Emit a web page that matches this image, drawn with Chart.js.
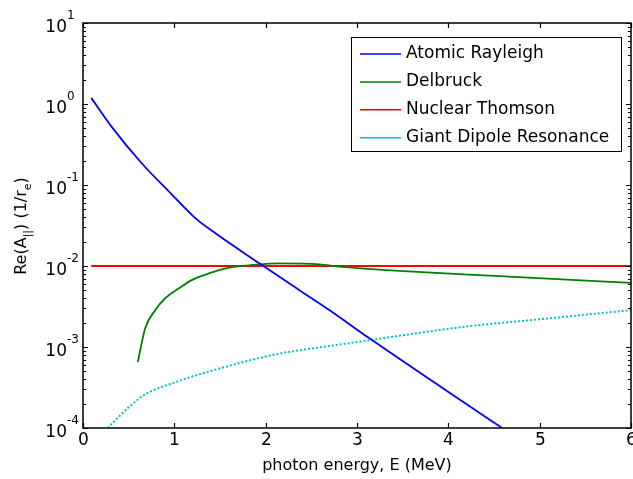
<!DOCTYPE html>
<html>
<head>
<meta charset="utf-8">
<script src="https://cdn.jsdelivr.net/npm/chart.js@4/dist/chart.umd.min.js"></script>
<style>
  html, body { margin: 0; padding: 0; background: #fff; }
  #wrap { width: 633px; height: 479px; }
</style>
</head>
<body>
<div id="wrap"><canvas id="c" width="633" height="479"></canvas></div>
<script>
// ─── Data ───
const rayleighE = [0.09, 0.31, 0.64, 0.96, 1.23, 1.45, 1.93, 2.37, 2.70, 3.14, 4.14, 4.59];
const rayleighA = [1.19, 0.53, 0.187, 0.079, 0.039, 0.0253, 0.0108, 0.00502, 0.00284, 0.00127, 0.000218, 0.0001];

const delbruckE = [0.60, 0.68, 0.79, 0.90, 1.05, 1.19, 1.35, 1.49, 1.67, 1.85, 2.15, 2.59, 2.81, 3.46, 4.56, 6.0];
const delbruckA = [0.00065, 0.00169, 0.00285, 0.0040, 0.0053, 0.0067, 0.0079, 0.0089, 0.0098, 0.0103, 0.0108, 0.0105, 0.0098, 0.0087, 0.0075, 0.0062];

const thomsonE = [0.09, 6.0];
const thomsonA = [0.01, 0.01];

const gdrE = [0.27, 0.50, 0.68, 1.01, 1.41, 2.15, 2.37, 3.0, 4.16, 5.0, 6.0];
const gdrA = [0.0001, 0.00018, 0.00026, 0.000367, 0.00051, 0.00083, 0.00091, 0.00115, 0.00177, 0.0022, 0.00285];

const xTicks = [0, 1, 2, 3, 4, 5, 6];
const yDecades = [-4, -3, -2, -1, 0, 1];

const FONT = '"DejaVu Sans", Verdana, sans-serif';

const pts = (xs, ys) => xs.map((x, i) => ({ x: x, y: ys[i] }));

// ─── MATLAB-style frame, ticks, labels and legend ───
const matlabAxes = {
    id: 'matlabAxes',
    afterDraw(chart) {
        const ctx = chart.ctx;
        const a = chart.chartArea;
        const xs = chart.scales.x, ys = chart.scales.y;
        ctx.save();
        ctx.strokeStyle = '#000';
        ctx.fillStyle = '#000';

        // frame
        ctx.lineWidth = 1.5;
        ctx.strokeRect(a.left, a.top, a.right - a.left, a.bottom - a.top);

        // x ticks (inward, top and bottom) + labels
        ctx.lineWidth = 1.2;
        ctx.font = '17px ' + FONT;
        ctx.textAlign = 'center';
        ctx.textBaseline = 'middle';
        xTicks.forEach(v => {
            const px = Math.round(xs.getPixelForValue(v)) + 0.5;
            ctx.beginPath();
            ctx.moveTo(px, a.bottom); ctx.lineTo(px, a.bottom - 5);
            ctx.moveTo(px, a.top); ctx.lineTo(px, a.top + 5);
            ctx.stroke();
            ctx.fillText(String(v), px, a.bottom + 13);
        });

        // y ticks: majors + minors, both sides
        yDecades.forEach(d => {
            const py = Math.round(ys.getPixelForValue(Math.pow(10, d))) + 0.5;
            ctx.beginPath();
            ctx.moveTo(a.left, py); ctx.lineTo(a.left + 5, py);
            ctx.moveTo(a.right, py); ctx.lineTo(a.right - 5, py);
            ctx.stroke();
            if (d < 1) {
                for (let k = 2; k <= 9; k++) {
                    const my = Math.round(ys.getPixelForValue(k * Math.pow(10, d))) + 0.5;
                    ctx.beginPath();
                    ctx.moveTo(a.left, my); ctx.lineTo(a.left + 3, my);
                    ctx.moveTo(a.right, my); ctx.lineTo(a.right - 3, my);
                    ctx.stroke();
                }
            }
            // label 10^d
            ctx.font = '17px ' + FONT;
            ctx.textAlign = 'right';
            ctx.textBaseline = 'middle';
            ctx.fillText('10', 67, py + 4);
            ctx.font = '12px ' + FONT;
            ctx.textAlign = 'left';
            ctx.fillText(String(d), 67, py - 8);
        });

        // x title
        ctx.font = '16px ' + FONT;
        ctx.textAlign = 'center';
        ctx.textBaseline = 'middle';
        ctx.fillText('photon energy, E (MeV)', (a.left + a.right) / 2, 466);

        // y title with subscripts, rotated
        ctx.save();
        ctx.translate(26, 226);
        ctx.rotate(-Math.PI / 2);
        ctx.textBaseline = 'alphabetic';
        ctx.textAlign = 'left';
        const parts = [
            ['Re(A', 16, 0], ['||', 11, 5], [') (1/r', 16, 0], ['e', 11, 5], [')', 16, 0]
        ];
        let total = 0;
        parts.forEach(p => { ctx.font = p[1] + 'px ' + FONT; total += ctx.measureText(p[0]).width; });
        let cx = -total / 2;
        parts.forEach(p => {
            ctx.font = p[1] + 'px ' + FONT;
            ctx.fillText(p[0], cx, p[2]);
            cx += ctx.measureText(p[0]).width;
        });
        ctx.restore();

        // legend
        const lx = 351, ly = 37, lw = 270, lh = 114;
        ctx.fillStyle = '#fff';
        ctx.fillRect(lx, ly, lw, lh);
        ctx.lineWidth = 1;
        ctx.strokeStyle = '#000';
        ctx.strokeRect(lx + 0.5, ly + 0.5, lw, lh);
        ctx.font = '17px ' + FONT;
        ctx.textAlign = 'left';
        ctx.textBaseline = 'middle';
        chart.data.datasets.forEach((ds, i) => {
            const yy = 54 + i * 27.9;
            ctx.strokeStyle = ds.borderColor;
            ctx.lineWidth = 1.5;
            ctx.setLineDash([]);
            ctx.beginPath();
            ctx.moveTo(360, yy); ctx.lineTo(401, yy);
            ctx.stroke();
            ctx.fillStyle = '#000';
            ctx.fillText(ds.label, 406, yy);
        });
        ctx.restore();
    }
};

new Chart(document.getElementById('c'), {
    type: 'line',
    data: {
        datasets: [
            { label: 'Atomic Rayleigh', data: pts(rayleighE, rayleighA), borderColor: '#0000ff', borderWidth: 1.8 },
            { label: 'Delbruck', data: pts(delbruckE, delbruckA), borderColor: '#008000', borderWidth: 1.8 },
            { label: 'Nuclear Thomson', data: pts(thomsonE, thomsonA), borderColor: '#ff0000', borderWidth: 1.8 },
            { label: 'Giant Dipole Resonance', data: pts(gdrE, gdrA), borderColor: '#00c4c4', borderWidth: 2, borderDash: [2, 2] }
        ]
    },
    options: {
        responsive: false,
        animation: false,
        layout: { padding: { left: 83, right: 2, top: 23, bottom: 51 } },
        elements: { point: { radius: 0 }, line: { tension: 0.2, cubicInterpolationMode: 'monotone' } },
        plugins: { legend: { display: false }, tooltip: { enabled: false } },
        scales: {
            x: { type: 'linear', min: 0, max: 6, display: false },
            y: { type: 'logarithmic', min: 1e-4, max: 10, display: false }
        }
    },
    plugins: [matlabAxes]
});
</script>
</body>
</html>
